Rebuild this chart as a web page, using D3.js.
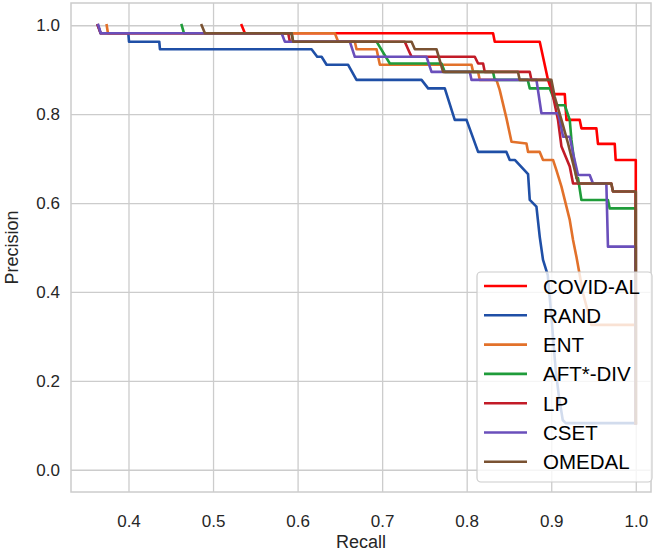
<!DOCTYPE html>
<html><head><meta charset="utf-8">
<script src="https://cdn.jsdelivr.net/npm/d3@7/dist/d3.min.js"></script>
<style>body{margin:0;background:#fff}svg{display:block}</style>
</head><body>
<svg id="chart" width="666" height="553"></svg>
<script>
// ---------- data ----------
const seriesNames = ["COVID-AL", "RAND", "ENT", "AFT*-DIV", "LP", "CSET", "OMEDAL"];
const seriesColors = ["#ff0000", "#1f4fa6", "#e2712a", "#1f9c3a", "#c21b27", "#6a4fbb", "#7a5232"];

const covidRecall    = [0.5338, 0.5377, 0.8312, 0.8332, 0.8864, 0.8962, 0.9018, 0.9160, 0.9180, 0.9337, 0.9357, 0.9534, 0.9553, 0.9751, 0.9762, 1.0, 1.0];
const covidPrecision = [1.0, 0.982, 0.982, 0.963, 0.963, 0.877, 0.845, 0.845, 0.787, 0.787, 0.768, 0.768, 0.733, 0.733, 0.697, 0.697, 0.105];

const randRecall    = [0.3636, 0.3671, 0.3998, 0.4006, 0.4364, 0.4372, 0.6165, 0.6232, 0.6284, 0.6343, 0.6598, 0.6697, 0.7466, 0.7544, 0.7741, 0.7859, 0.7998, 0.8135, 0.8470, 0.8509, 0.8569, 0.8726, 0.8746, 0.8825, 0.8864, 0.8903, 0.8959, 0.9005, 0.9053, 0.9089, 0.9136, 0.9171, 1.0];
const randPrecision = [1.0, 0.982, 0.982, 0.963, 0.963, 0.946, 0.946, 0.929, 0.929, 0.911, 0.911, 0.877, 0.877, 0.858, 0.858, 0.787, 0.787, 0.715, 0.715, 0.697, 0.697, 0.665, 0.607, 0.592, 0.524, 0.472, 0.438, 0.337, 0.224, 0.168, 0.112, 0.105, 0.105];

const entRecall    = [0.3742, 0.3757, 0.6441, 0.6480, 0.6677, 0.6697, 0.6934, 0.6973, 0.8057, 0.8076, 0.8135, 0.8155, 0.8352, 0.8391, 0.8470, 0.8530, 0.8707, 0.8726, 0.8864, 0.8903, 0.9021, 0.9061, 0.9121, 0.9160, 0.9219, 0.9258, 0.9298, 0.9376, 0.9475, 1.0, 1.0];
const entPrecision = [1.0, 0.982, 0.982, 0.963, 0.963, 0.946, 0.946, 0.911, 0.911, 0.895, 0.895, 0.877, 0.877, 0.854, 0.791, 0.738, 0.734, 0.715, 0.715, 0.697, 0.697, 0.674, 0.637, 0.607, 0.562, 0.517, 0.479, 0.397, 0.326, 0.326, 0.105];

const aftRecall    = [0.4629, 0.4656, 0.5929, 0.5948, 0.6934, 0.7091, 0.7702, 0.7741, 0.8312, 0.8332, 0.8722, 0.8746, 0.8982, 0.9061, 0.9160, 0.9219, 0.9239, 0.9298, 0.9317, 0.9357, 0.9671, 0.9691, 1.0, 1.0];
const aftPrecision = [1.0, 0.982, 0.982, 0.963, 0.963, 0.914, 0.914, 0.895, 0.895, 0.877, 0.877, 0.858, 0.858, 0.820, 0.820, 0.787, 0.742, 0.656, 0.656, 0.607, 0.607, 0.588, 0.588, 0.105];

const lpRecall    = [0.3636, 0.3671, 0.5889, 0.5909, 0.7268, 0.7307, 0.7348, 0.8096, 0.8135, 0.8194, 0.8214, 0.8746, 0.8766, 0.8982, 0.9080, 0.9121, 0.9219, 0.9258, 0.9711, 0.9730, 1.0, 1.0];
const lpPrecision = [1.0, 0.982, 0.982, 0.963, 0.963, 0.946, 0.929, 0.929, 0.914, 0.914, 0.895, 0.895, 0.877, 0.877, 0.787, 0.727, 0.682, 0.644, 0.644, 0.626, 0.626, 0.105];

const csetRecall    = [0.3643, 0.3671, 0.5811, 0.5850, 0.6618, 0.6677, 0.7525, 0.7584, 0.8037, 0.8057, 0.8825, 0.8884, 0.9080, 0.9101, 0.9140, 0.9219, 0.9258, 0.9317, 0.9455, 0.9494, 0.9652, 0.9671, 1.0, 1.0];
const csetPrecision = [1.0, 0.982, 0.982, 0.963, 0.963, 0.929, 0.929, 0.895, 0.895, 0.877, 0.877, 0.802, 0.802, 0.787, 0.749, 0.749, 0.712, 0.663, 0.663, 0.644, 0.644, 0.502, 0.502, 0.105];

const omedalRecall    = [0.4865, 0.4904, 0.5929, 0.5948, 0.7348, 0.7387, 0.7643, 0.7721, 0.8607, 0.8627, 0.9002, 0.9041, 0.9121, 0.9199, 0.9258, 0.9317, 0.9711, 0.9730, 1.0, 1.0];
const omedalPrecision = [1.0, 0.982, 0.982, 0.963, 0.963, 0.946, 0.946, 0.895, 0.895, 0.877, 0.877, 0.839, 0.787, 0.734, 0.689, 0.644, 0.644, 0.626, 0.626, 0.105];

const seriesRecall = [covidRecall, randRecall, entRecall, aftRecall, lpRecall, csetRecall, omedalRecall];
const seriesPrecision = [covidPrecision, randPrecision, entPrecision, aftPrecision, lpPrecision, csetPrecision, omedalPrecision];

const xTickValues = [0.4, 0.5, 0.6, 0.7, 0.8, 0.9, 1.0];
const yTickValues = [0.0, 0.2, 0.4, 0.6, 0.8, 1.0];
const xLabel = "Recall";
const yLabel = "Precision";

// ---------- layout ----------
const svg = d3.select("#chart");
const plot = {left: 71, right: 651, top: 3, bottom: 492};
const x = d3.scaleLinear().domain([0.332, 1.018]).range([plot.left, plot.right]);
const y = d3.scaleLinear().domain([-0.05, 1.05]).range([plot.bottom, plot.top]);
const font = "'Liberation Sans', Arial, Helvetica, sans-serif";
const gridColor = "#cccccc";
const textColor = "#262626";

// grid
const gx = svg.append("g").attr("transform", `translate(0,${plot.bottom})`)
  .call(d3.axisBottom(x).tickValues(xTickValues).tickFormat(d3.format(".1f"))
        .tickSize(-(plot.bottom - plot.top)).tickPadding(23));
gx.select(".domain").remove();
gx.selectAll(".tick line").attr("stroke", gridColor).attr("stroke-width", 1.3);
gx.selectAll(".tick text").attr("font-family", font).attr("font-size", 17).attr("fill", textColor);

const gy = svg.append("g").attr("transform", `translate(${plot.left},0)`)
  .call(d3.axisLeft(y).tickValues(yTickValues).tickFormat(d3.format(".1f"))
        .tickSize(-(plot.right - plot.left)).tickPadding(11));
gy.select(".domain").remove();
gy.selectAll(".tick line").attr("stroke", gridColor).attr("stroke-width", 1.3);
gy.selectAll(".tick text").attr("font-family", font).attr("font-size", 17).attr("fill", textColor);

// frame
svg.append("rect").attr("x", plot.left).attr("y", plot.top)
  .attr("width", plot.right - plot.left).attr("height", plot.bottom - plot.top)
  .attr("fill", "none").attr("stroke", gridColor).attr("stroke-width", 1.5);

// clip
svg.append("clipPath").attr("id", "clip").append("rect")
  .attr("x", plot.left).attr("y", plot.top)
  .attr("width", plot.right - plot.left).attr("height", plot.bottom - plot.top);

const line = d3.line().x(d => x(d[0])).y(d => y(d[1]));
const linesG = svg.append("g").attr("clip-path", "url(#clip)");
seriesNames.forEach((name, i) => {
  const pts = seriesRecall[i].map((r, j) => [r, seriesPrecision[i][j]]);
  linesG.append("path").datum(pts).attr("d", line)
    .attr("fill", "none").attr("stroke", seriesColors[i])
    .attr("stroke-width", 2.6).attr("stroke-linejoin", "round").attr("stroke-linecap", "square");
});

// axis labels
svg.append("text").attr("x", (plot.left + plot.right) / 2).attr("y", 542)
  .attr("text-anchor", "middle").attr("dominant-baseline", "central")
  .attr("font-family", font).attr("font-size", 18).attr("fill", textColor).text(xLabel);
svg.append("text").attr("transform", `translate(12,${(plot.top + plot.bottom) / 2}) rotate(-90)`)
  .attr("text-anchor", "middle").attr("dominant-baseline", "central")
  .attr("font-family", font).attr("font-size", 18).attr("fill", textColor).text(yLabel);

// legend
const leg = {x: 477, y: 272, w: 175, h: 210, row: 29.3, first: 286};
svg.append("rect").attr("x", leg.x).attr("y", leg.y).attr("width", leg.w).attr("height", leg.h)
  .attr("rx", 4).attr("fill", "white").attr("fill-opacity", 0.8)
  .attr("stroke", gridColor).attr("stroke-width", 1.2);
seriesNames.forEach((name, i) => {
  const yy = leg.first + i * leg.row;
  svg.append("line").attr("x1", 484).attr("x2", 527).attr("y1", yy).attr("y2", yy)
    .attr("stroke", seriesColors[i]).attr("stroke-width", 2.6);
  svg.append("text").attr("x", 543).attr("y", yy).attr("dominant-baseline", "central")
    .attr("font-family", font).attr("font-size", 20.5).attr("fill", "#000").text(name);
});
</script>
</body></html>
